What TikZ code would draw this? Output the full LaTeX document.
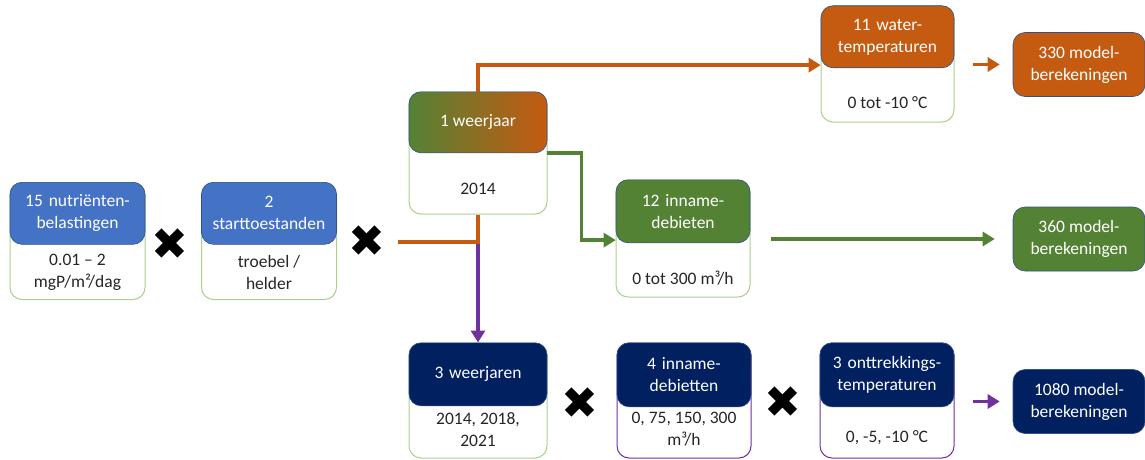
\documentclass[tikz,border=0pt]{standalone}
\usepackage{fontspec}
\setmainfont{Carlito}
\newfontfamily\kruisfont{DejaVu Sans}
\usetikzlibrary{arrows.meta,positioning}

\definecolor{blauw}{HTML}{4472C4}
\definecolor{groen}{HTML}{548235}
\definecolor{oranje}{HTML}{C55A11}
\definecolor{navy}{HTML}{002060}
\definecolor{paars}{HTML}{7030A0}
\definecolor{lichtgroen}{HTML}{A9D18E}
\definecolor{rand}{HTML}{2F528F}

\tikzset{
  kaart/.style={draw=#1, fill=white, rounded corners=12pt, line width=1pt,
    minimum width=135pt, minimum height=117pt, inner sep=0pt},
  kop/.style={fill=#1, draw=rand, rounded corners=12pt, line width=0.6pt,
    minimum width=135pt, minimum height=62pt, text=white, align=center,
    text width=128pt, inner sep=0pt},
  verloop/.style={left color=groen, right color=oranje, draw=rand,
    rounded corners=12pt, line width=0.6pt, minimum width=138pt,
    minimum height=61pt, text=white, align=center, inner sep=0pt},
  waarde/.style={align=center, text=black!85, inner sep=0pt},
  uitkomst/.style={fill=#1, draw=rand, rounded corners=12pt, line width=0.6pt,
    minimum width=132pt, minimum height=64pt, text=white, align=center,
    inner sep=0pt},
  maal/.style={font=\kruisfont\fontsize{44}{44}\selectfont, inner sep=0pt},
  pijl/.style={line width=3.6pt, -{Triangle[length=12pt,width=14pt]}},
  lijn/.style={line width=3.6pt}
}

\begin{document}
\begin{tikzpicture}[x=1pt,y=-1pt,font=\fontsize{17.5}{22}\selectfont]
\useasboundingbox (0,0) rectangle (1145,460);

% Nutrientenbelasting en starttoestand
\node[kaart=lichtgroen] (Akaart) at (77.5,241) {};
\node[kop=blauw, anchor=north] (Akop) at (Akaart.north) {15 nutriënten-\\belastingen};
\node[waarde] (Awaarde) at ([yshift=28pt]Akaart.south) {0.01 – 2\\mgP/m²/dag};
\node[maal] (X1) at (170,244) {✖};

\node[kaart=lichtgroen] (Bkaart) at (269,241) {};
\node[kop=blauw, anchor=north] (Bkop) at (Bkaart.north) {2\\starttoestanden};
\node[waarde] (Bwaarde) at ([yshift=28pt]Bkaart.south) {troebel /\\helder};
\node[maal] (X2) at (367,241) {✖};

% Splitsing
\coordinate (splits) at (398,242);
\coordinate (knik) at (478,242);

% 1 weerjaar
\node[kaart=lichtgroen, minimum width=138pt, minimum height=122pt] (Ckaart) at (478,153) {};
\node[verloop, anchor=north] (Ckop) at (Ckaart.north) {1 weerjaar};
\node[waarde] (Cwaarde) at ([yshift=26pt]Ckaart.south) {2014};

% Watertemperaturen
\node[kaart=lichtgroen, minimum width=133pt, minimum height=116pt] (Ekaart) at (887.5,64) {};
\node[kop=oranje, anchor=north, minimum width=133pt] (Ekop) at (Ekaart.north) {11 water-\\temperaturen};
\node[waarde] (Ewaarde) at ([yshift=20pt]Ekaart.south) {0 tot -10 °C};
\node[uitkomst=oranje] (Fuit) at (1079,64.5) {330 model-\\berekeningen};

% Innamedebieten
\node[kaart=lichtgroen, minimum width=134pt] (Dkaart) at (683,238.5) {};
\node[kop=groen, anchor=north, minimum width=134pt, minimum height=63pt] (Dkop) at (Dkaart.north) {12 inname-\\debieten};
\node[waarde] (Dwaarde) at ([yshift=19pt]Dkaart.south) {0 tot 300 m³/h};
\node[uitkomst=groen] (Guit) at (1079,239) {360 model-\\berekeningen};

% Drie weerjaren
\node[kaart=lichtgroen, minimum width=138pt, minimum height=115pt] (Hkaart) at (478,400.5) {};
\node[kop=navy, anchor=north, minimum width=138pt, minimum height=63pt] (Hkop) at (Hkaart.north) {3 weerjaren};
\node[waarde] (Hwaarde) at ([yshift=29pt]Hkaart.south) {2014, 2018,\\2021};
\node[maal] (X3) at (580,403) {✖};

\node[kaart=paars, minimum width=134pt, minimum height=115pt] (Ikaart) at (684,400.5) {};
\node[kop=navy, anchor=north, minimum width=134pt, minimum height=64pt] (Ikop) at (Ikaart.north) {4 inname-\\debietten};
\node[waarde] (Iwaarde) at ([yshift=29pt]Ikaart.south) {0, 75, 150, 300\\m³/h};
\node[maal] (X4) at (783,402) {✖};

\node[kaart=paars, minimum width=134pt, minimum height=115pt] (Jkaart) at (887,400.5) {};
\node[kop=navy, anchor=north, minimum width=134pt, minimum height=64pt] (Jkop) at (Jkaart.north) {3 onttrekkings-\\temperaturen};
\node[waarde] (Jwaarde) at ([yshift=21pt]Jkaart.south) {0, -5, -10 °C};
\node[uitkomst=navy] (Kuit) at (1079,401.5) {1080 model-\\berekeningen};

% Verbindingen
\draw[pijl, paars] (splits) -- (knik) -- (Hkop.north);
\draw[lijn, oranje] (splits) -- (knik) -- (Ckaart.south);
\draw[pijl, oranje] (Ckaart.north) |- ([yshift=3pt]Ekop.south west);
\draw[pijl, groen] (Ckop.south east) -- ++(34,0) |- ([yshift=3pt]Dkop.south west);
\draw[pijl, groen] ([xshift=20pt]Dkaart.east |- Guit.west) -- ([xshift=-18pt]Guit.west);
\draw[pijl, oranje] ([xshift=18pt]Ekaart.east |- Fuit.west) -- ([xshift=-13pt]Fuit.west);
\draw[pijl, paars] ([xshift=18pt]Jkaart.east |- Kuit.west) -- ([xshift=-13pt]Kuit.west);
\end{tikzpicture}
\end{document}
